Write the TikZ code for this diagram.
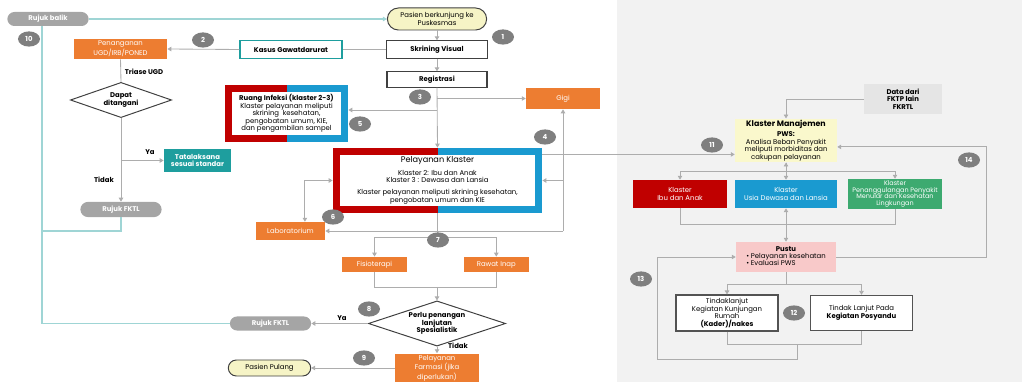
\documentclass[tikz,border=0pt]{standalone}
\usepackage{fontspec}
\setmainfont{Poppins}
\usepackage{tikz}
\usetikzlibrary{shapes.geometric, shapes.misc, arrows.meta, positioning, calc}
\definecolor{panelgray}{HTML}{F2F2F2}
\definecolor{boxorange}{HTML}{ED7D31}
\definecolor{boxteal}{HTML}{1E9E9E}
\definecolor{pillgray}{HTML}{A5A5A5}
\definecolor{numgray}{HTML}{7F7F7F}
\definecolor{paleyellow}{HTML}{F6F4C6}
\definecolor{kmyellow}{HTML}{FAF8CC}
\definecolor{klred}{HTML}{C00000}
\definecolor{klblue}{HTML}{1A9AD0}
\definecolor{klgreen}{HTML}{3DAA70}
\definecolor{pustupink}{HTML}{F8C9C9}
\definecolor{datagray}{HTML}{E5E5E5}
\definecolor{linegray}{HTML}{ADADAD}
\definecolor{lineteal}{HTML}{9FD5D5}
\definecolor{inkgray}{HTML}{404040}

\begin{document}
\begin{tikzpicture}[
  x=0.025cm, y=-0.025cm,
  font=\fontsize{4.9}{5.3}\selectfont,
  >={Triangle[width=3.2pt,length=2.8pt]},
  bfont/.style={font=\fontsize{4.9}{5.3}\selectfont\bfseries},
  box/.style={draw=inkgray, line width=0.8pt, fill=white, align=center, inner sep=1pt},
  orangebox/.style={fill=boxorange, text=white, align=center, inner sep=1pt},
  tealbox/.style={fill=boxteal, text=white, bfont, align=center, inner sep=1pt},
  pill/.style={rounded rectangle, fill=pillgray, text=white, bfont, inner sep=1pt},
  yellowpill/.style={rounded rectangle, draw=inkgray, line width=0.7pt, fill=paleyellow, align=center, inner sep=1pt},
  numc/.style={ellipse, fill=numgray, text=white, bfont, minimum width=0.55cm, minimum height=0.38cm, inner sep=0pt},
  diam/.style={diamond, draw=inkgray, line width=0.7pt, fill=white, align=center, inner sep=0pt, bfont},
  klbox/.style={text=white, align=center, inner sep=1pt},
  splitbox/.style={fill=white, align=center, inner sep=1pt, path picture={
    \fill[klred] (path picture bounding box.north west) rectangle (path picture bounding box.south);
    \fill[klblue] (path picture bounding box.north) rectangle (path picture bounding box.south east);
    \fill[white] ([shift={(0.17cm,-0.17cm)}]path picture bounding box.north west) rectangle ([shift={(-0.17cm,0.17cm)}]path picture bounding box.south east);}},
  flow/.style={draw=linegray, line width=0.6pt},
  back/.style={draw=lineteal, line width=1pt},
]
  \useasboundingbox (0,0) rectangle (1024,392);

  % Management panel
  \fill[panelgray] (617,0) rectangle (1022,382);

  % Entry and screening
  \node[yellowpill, minimum width=2.55cm, minimum height=0.55cm] (pasien) at (437,19) {Pasien berkunjung ke\\Puskesmas};
  \node[box, bfont, minimum width=2.53cm, minimum height=0.43cm] (skrining) at (437,49.5) {Skrining Visual};
  \node[box, bfont, minimum width=2.5cm, minimum height=0.38cm] (registrasi) at (437,79.5) {Registrasi};
  \node[box, bfont, draw=boxteal, minimum width=2.55cm, minimum height=0.43cm] (kasus) at (291,49.5) {Kasus Gawatdarurat};
  \node[pill, minimum width=2.1cm, minimum height=0.35cm] (rujukBalik) at (48,19) {Rujuk balik};

  % Emergency branch
  \node[orangebox, minimum width=2.33cm, minimum height=0.5cm] (penanganan) at (120.5,49) {Penanganan\\UGD/IRB/PONED};
  \node[diam, shape aspect=2.9, minimum width=2.53cm, minimum height=0.88cm] (dapat) at (121,100) {Dapat\\ditangani};
  \node[tealbox, minimum width=1.68cm, minimum height=0.58cm] (tatalaksana) at (197.5,160.5) {Tatalaksana\\sesuai standar};
  \node[pill, minimum width=2.1cm, minimum height=0.38cm] (rujukFKTL1) at (121,209.5) {Rujuk FKTL};
  \node[bfont] (triase) at (144,72) {Triase UGD};
  \node[bfont] (ya1) at (150,152) {Ya};
  \node[bfont] (tidak1) at (104,180) {Tidak};

  % Cluster services
  \node[splitbox, minimum width=3.08cm, minimum height=1.4cm] (ruang) at (286.5,113.5) {\textbf{Ruang Infeksi (klaster 2-3)}\\Klaster pelayanan meliputi\\skrining~~kesehatan,\\pengobatan umum, KIE,\\dan pengambilan sampel};
  \node[orangebox, minimum width=1.85cm, minimum height=0.53cm] (gigi) at (563,98.5) {Gigi};
  \node[splitbox, minimum width=5.23cm, minimum height=1.63cm] (pk) at (437.5,180.5) {{\fontsize{5.8}{7}\selectfont Pelayanan Klaster}\\[3.5pt]Klaster 2: Ibu dan Anak\\Klaster 3 : Dewasa dan Lansia\\[3.5pt]Klaster pelayanan meliputi skrining kesehatan,\\pengobatan umum dan KIE};
  \node[orangebox, minimum width=1.73cm, minimum height=0.45cm] (lab) at (290.5,231) {Laboratorium};
  \node[orangebox, minimum width=1.63cm, minimum height=0.38cm] (fisio) at (374.5,264.5) {Fisioterapi};
  \node[orangebox, minimum width=1.63cm, minimum height=0.38cm, right=1.4cm of fisio] (rawat) {Rawat Inap};

  % Follow-up decision
  \node[diam, shape aspect=3, minimum width=3.43cm, minimum height=1.13cm] (perlu) at (437,323.5) {Perlu penangan\\lanjutan\\Spesialistik};
  \node[pill, minimum width=2.1cm, minimum height=0.35cm] (rujukFKTL2) at (270.5,323.5) {Rujuk FKTL};
  \node[orangebox, minimum width=2.1cm, minimum height=0.65cm] (farmasi) at (437,368) {Pelayanan\\Farmasi (jika\\diperlukan)};
  \node[yellowpill, minimum width=2.13cm, minimum height=0.4cm] (pasienPulang) at (269.5,368) {Pasien Pulang};
  \node[bfont] (ya2) at (342,318) {Ya};
  \node[bfont] (tidak2) at (458,346) {Tidak};

  % Management cluster
  \node[fill=datagray, bfont, align=center, minimum width=1.95cm, minimum height=0.7cm] (data) at (903,99) {Data dari\\FKTP lain\\FKRTL};
  \node[fill=kmyellow, align=center, inner sep=1pt, minimum width=2.55cm, minimum height=1.03cm] (km) at (786,140.5) {{\fontsize{5.6}{6.6}\selectfont\bfseries Klaster Manajemen}\\[2pt]\textbf{PWS:}\\Analisa Beban Penyakit\\meliputi morbiditas dan\\cakupan pelayanan};
  \node[klbox, fill=klred, minimum width=2.35cm, minimum height=0.7cm] (kIbu) at (680,194) {Klaster\\Ibu dan Anak};
  \node[klbox, fill=klblue, minimum width=2.55cm, minimum height=0.7cm] (kUsia) at (786,194) {Klaster\\Usia Dewasa dan Lansia};
  \node[klbox, fill=klgreen, minimum width=2.35cm, minimum height=0.7cm, font=\fontsize{4.6}{4.9}\selectfont] (kP2) at (895,194) {Klaster\\Penanggulangan Penyakit\\Menular dan Kesehatan\\Lingkungan};
  \node[fill=pustupink, inner sep=1pt, minimum width=2.5cm, minimum height=0.75cm] (pustu) at (786,257) {\begin{tabular}{@{}l@{}}\multicolumn{1}{@{}c@{}}{\textbf{Pustu}}\\ \textbullet\ Pelayanan kesehatan\\ \textbullet\ Evaluasi PWS\end{tabular}};
  \node[box, draw=inkgray!90, minimum width=2.55cm, minimum height=0.9cm] (tindak1) at (727,313) {Tindaklanjut\\Kegiatan Kunjungan\\Rumah\\\textbf{(Kader)/nakes}};
  \node[box, draw=inkgray!90, minimum width=2.53cm, minimum height=0.88cm] (tindak2) at (861.5,313) {Tindak Lanjut Pada\\\textbf{Kegiatan Posyandu}};

  % Referral return lines
  \coordinate (backbone) at (42,231);
  \draw[back, ->] (rujukBalik.east) -- (pasien.west);
  \draw[back] (rujukFKTL2.west) -| ([xshift=-0.15cm]rujukBalik.south);
  \draw[back] (rujukFKTL1.south) |- (backbone);

  % Main flow
  \draw[flow, ->] (pasien.south) -- (skrining.north);
  \draw[flow, ->] (skrining.south) -- (registrasi.north);
  \draw[flow] (skrining.west) -- (kasus.east);
  \draw[flow, ->] (kasus.west) -- (penanganan.east);
  \draw[flow] (penanganan.south) -- (dapat.north);
  \draw[flow, ->] (dapat.south) -- (rujukFKTL1.north);
  \draw[flow, ->] (dapat.south |- tatalaksana.west) -- (tatalaksana.west);
  \draw[flow, ->] (registrasi.south) -- (pk.north);
  \draw[flow, ->] (registrasi.south |- gigi.west) -- (gigi.west);
  \draw[flow, ->] (registrasi.south |- 0,110) -- (ruang.east |- 0,110);
  \draw[flow, ->] (gigi.south |- lab.east) -- (gigi.south);
  \draw[flow, ->] (gigi.south |- lab.east) -- (lab.east);
  \draw[flow, ->] (gigi.south |- pk.east) -- (pk.east);
  \draw[flow, <->] ([xshift=0.36cm]lab.north) |- (pk.west);
  \draw[flow, ->] (pk.south) -- ++(0,24) -| (fisio.north);
  \draw[flow, ->] (pk.south) -- ++(0,24) -| (rawat.north);
  \draw[flow] (fisio.south) -- ++(0,15) -| (rawat.south);
  \draw[flow, ->] (perlu.north |- 0,287) -- (perlu.north);
  \draw[flow, ->] (perlu.west) -- (rujukFKTL2.east);
  \draw[flow, ->] (perlu.south) -- (farmasi.north);
  \draw[flow, ->] (farmasi.west) -- (pasienPulang.east);

  % Management flow
  \draw[flow, ->] (data.west) -| (km.north);
  \draw[flow, ->] ([yshift=-0.17cm]pk.north east) -- ([yshift=-0.17cm]pk.north east -| km.west);
  \draw[flow, <->] (km.south) -- (kUsia.north);
  \draw[flow, ->] (km.south) -- ++(0,9) -| (kIbu.north);
  \draw[flow, ->] (km.south) -- ++(0,9) -| (kP2.north);
  \draw[flow] (kIbu.south) -- ++(0,16) -| (kP2.south);
  \draw[flow, <->] (kUsia.south) -- (pustu.north);
  \draw[flow, ->] (pustu.south) -- ++(0,12) -| (tindak1.north);
  \draw[flow, ->] (pustu.south) -- ++(0,12) -| (tindak2.north);
  \draw[flow] (tindak1.south) -- ++(0,13) -| (tindak2.south);
  \coordinate (m12) at (797,344);
  \draw[flow, ->] (m12) |- (657,359) |- (pustu.west);
  \draw[flow, ->] (pustu.east) -- ++(150,0) |- ([yshift=-0.16cm]km.east);

  % Step numbers
  \node[numc] (n1) at (503,37) {1};
  \node[numc] (n2) at (203,40) {2};
  \node[numc] (n3) at (420,97) {3};
  \node[numc] (n4) at (545,137) {4};
  \node[numc] (n5) at (360,124) {5};
  \node[numc] (n6) at (333,217) {6};
  \node[numc] (n7) at (438,240) {7};
  \node[numc] (n8) at (369,309) {8};
  \node[numc] (n9) at (364,358) {9};
  \node[numc] (n10) at (29,39) {10};
  \node[numc] (n11) at (712,145) {11};
  \node[numc] (n12) at (794,313) {12};
  \node[numc] (n13) at (641,279) {13};
  \node[numc] (n14) at (969,160) {14};

\end{tikzpicture}
\end{document}
